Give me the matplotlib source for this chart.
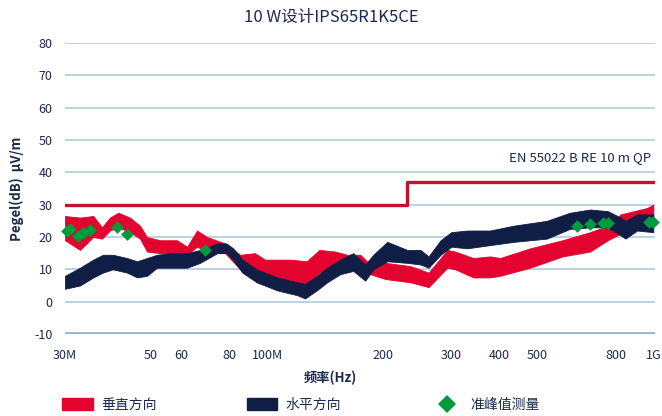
import numpy as np
import matplotlib
matplotlib.use("Agg")
from matplotlib import pyplot as plt
from matplotlib.patches import Patch
from matplotlib.lines import Line2D

plt.rcParams['font.family'] = ['Noto Sans CJK SC', 'DejaVu Sans']
plt.rcParams['axes.unicode_minus'] = False

# vertical polarisation (red) - envelope, MHz / dB
vert_f = [30, 32.8, 35.5, 37.4, 39.2, 41.2, 44.2, 46.9, 48.9, 52.9, 58.5, 62.1, 65.9, 70,
          77.9, 85.2, 93.1, 98.8, 114.8, 126.7, 136.6, 150.1, 161.3, 174.4, 185, 202.4,
          234.8, 262, 293, 307, 342, 378, 401, 480, 582, 686, 762, 823, 965, 1000]
vert_hi = [26.5, 26, 26.5, 23, 26, 27.5, 26, 23.5, 20, 19, 19, 17, 22, 20,
           18, 14.5, 15, 13, 13, 12.5, 16, 15.5, 14.5, 14.5, 11.5, 12,
           11, 9, 16, 15.5, 13.5, 14, 13.5, 16.5, 19, 21.5, 23.5, 27, 29, 30]
vert_lo = [19, 16, 20, 19.5, 22, 23, 21.5, 19.5, 15.5, 15, 15, 14.5, 17, 15.5,
           15, 10, 8, 6, 6, 5.5, 9, 10, 10, 9.5, 8.5, 7,
           6, 4.5, 10.5, 10, 7.5, 7.5, 8, 10.5, 14, 15.5, 19, 21, 23, 24]

# horizontal polarisation (navy)
horz_f = [30, 32.8, 35.5, 37.6, 39.9, 43.4, 46.1, 48.9, 51.9, 56.1, 62.1, 67.1, 74.3,
          78.5, 81.7, 86.3, 94.0, 106.2, 119.7, 125.5, 134.6, 143.2, 154.7, 167.2,
          179.6, 188.4, 204.8, 230.7, 249.6, 262, 281.4, 300, 330, 378, 435, 530,
          608, 686, 762, 823, 847, 908, 1000]
horz_hi = [8, 10.5, 13, 14.5, 14.5, 13.5, 12.5, 13.5, 14.5, 15, 15, 16, 18,
           18, 16.5, 13, 10, 7.5, 6, 5.5, 8, 10.5, 13, 15,
           11.5, 14.5, 18.5, 16, 16, 14, 19, 21.5, 22, 22, 23.5, 25,
           27.5, 28.5, 28, 26, 25, 27, 27]
horz_lo = [4, 5, 7.5, 9, 10, 9, 7.5, 8, 10.5, 10.5, 10.5, 12, 15,
           15, 13, 9, 6, 3.5, 2, 1, 3.5, 6, 8.5, 9.5,
           6.5, 10, 12.5, 12, 11.5, 10.5, 14.5, 17, 16.5, 17.5, 18.5, 19.5,
           22.5, 23, 23, 20.5, 19.5, 22, 21.5]

# quasi-peak measurements
qp_f = [30.4, 30.9, 32.4, 33.4, 34.8, 40.9, 43.4, 68.9, 633, 686, 743, 762, 975, 1000]
qp_db = [22, 22.5, 20.3, 21.3, 22.2, 23.1, 21, 16, 23.5, 24, 24.3, 24.3, 24.6, 24.6]

# EN 55022 class B, 10 m, QP limit
limit_f = [30, 230, 230, 1000]
limit_db = [30, 30, 37, 37]

xticks = [30, 50, 60, 80, 100, 200, 300, 400, 500, 800, 1000]
xticklabels = ['30M', '50', '60', '80', '100M', '200', '300', '400', '500', '800', '1G']
yticks = list(range(-10, 90, 10))

red = '#e4032e'
navy = '#101d45'
green = '#009a3e'
txt = '#1b2a4e'

fig = plt.figure(figsize=(6.62, 4.16), dpi=100)
ax = fig.add_axes([65 / 662, 1 - 334 / 416, 590 / 662, 291 / 416])

for y in yticks:
    if y == -10:
        ax.axhline(y, color='#8fb1cf', lw=2.6, zorder=0)
    else:
        ax.axhline(y, color='#bcd2e4', lw=1.4, zorder=0)

ax.fill_between(vert_f, vert_lo, vert_hi, color=red, lw=0.6, edgecolor=red, zorder=2)
ax.fill_between(horz_f, horz_lo, horz_hi, color=navy, lw=0.6, edgecolor=navy, zorder=3)
ax.plot(limit_f, limit_db, color='#c4122e', lw=2.4, zorder=4)
ax.scatter(qp_f, qp_db, marker='D', s=42, color=green, lw=0, zorder=5, clip_on=False)

ax.set_xscale('log')
ax.set_xlim(30, 1010)
ax.set_ylim(-10, 80)
ax.set_xticks(xticks)
ax.set_xticklabels(xticklabels)
ax.minorticks_off()
ax.set_yticks(yticks)
ax.tick_params(length=0, labelsize=9, colors=txt)
ax.tick_params(axis='x', pad=11)
ax.tick_params(axis='y', pad=9)
for s in ax.spines.values():
    s.set_visible(False)

ax.text(985, 44.5, 'EN 55022 B RE 10 m QP', ha='right', va='center', fontsize=9.5, color=txt)

fig.text(0.5, 1 - 17 / 416, '10 W设计IPS65R1K5CE', ha='center', va='center', fontsize=12, color=txt)
fig.text(330 / 662, 1 - 378 / 416, '频率(Hz)', ha='center', va='center', fontsize=9.5,
         color=txt, fontweight='bold')
fig.text(17 / 662, 1 - 189 / 416, 'Pegel(dB)  μV/m', ha='center', va='center', rotation=90,
         fontsize=9.5, color=txt, fontweight='bold')

handles = [Patch(facecolor=red, edgecolor=red),
           Patch(facecolor=navy, edgecolor=navy),
           Line2D([], [], marker='D', color=green, ls='none', markersize=9, markeredgewidth=0)]
labels = ['垂直方向', '水平方向', '准峰值测量']
fig.legend(handles, labels, ncol=3, frameon=False, loc='center left',
           bbox_to_anchor=(62 / 662, 1 - 405 / 416), fontsize=10, labelcolor=txt,
           handlelength=2.2, handleheight=0.9, handletextpad=0.6, columnspacing=6.5,
           borderpad=0, borderaxespad=0)

fig.savefig('out.png', dpi=100)
